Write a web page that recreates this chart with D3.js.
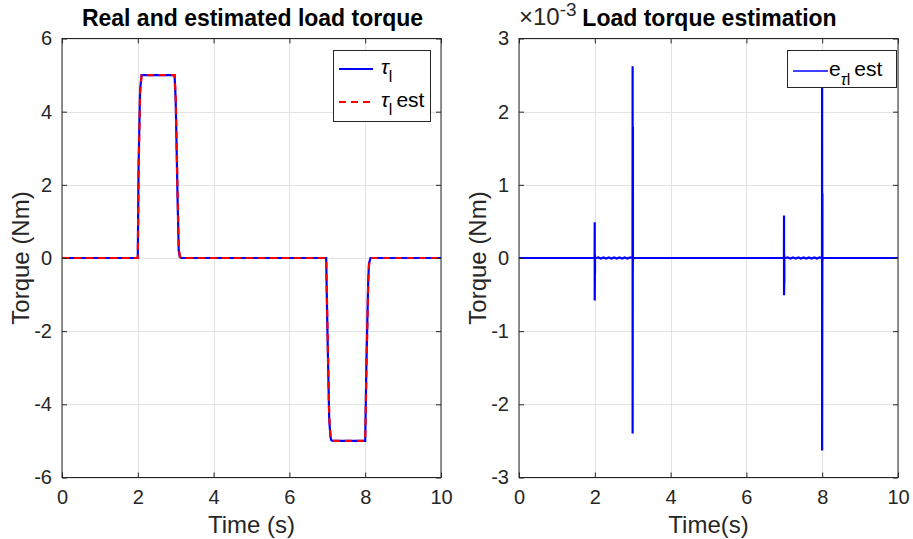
<!DOCTYPE html>
<html lang="en">
<head>
<meta charset="UTF-8">
<script src="https://d3js.org/d3.v7.min.js"></script>
<style>
  body { margin: 0; background: #fff; }
  svg { display: block; font-family: "Liberation Sans", Arial, sans-serif; }
  .grid line { stroke: #e3e3e3; stroke-width: 1; }
  .tick text { fill: #262626; font-family: "Liberation Sans", Arial, sans-serif; font-size: 20px; }
</style>
</head>
<body>
<div id="container"></div>
<script>
// left panel: real and estimated load torque (Nm)
var timeL   = [0, 2.0, 2.02, 2.06, 2.1, 2.97, 3.0, 3.05, 3.08, 3.11, 3.15, 6.97, 7.0, 7.05, 7.08, 7.1, 7.14, 8.0, 8.03, 8.08, 8.1, 8.14, 10];
var torque  = [0, 0, 2.5, 4.6, 5, 5, 4.3, 1.6, 0.2, 0.02, 0, 0, -1.8, -4.4, -4.85, -4.97, -5, -5, -3.0, -0.6, -0.15, 0, 0];
var torqueE = [0, 0, 2.3, 4.5, 5, 5, 4.4, 1.8, 0.3, 0.04, 0, 0, -1.6, -4.3, -4.8, -4.95, -5, -5, -3.2, -0.7, -0.2, 0, 0];

// right panel: estimation error (x1e-3 Nm)
var errT = [0, 1.995, 1.998, 1.998, 2.003, 2.003, 2.006, 2.006, 2.03,
            2.09, 2.16, 2.23, 2.30, 2.37, 2.44, 2.51, 2.58, 2.65, 2.72, 2.79, 2.86, 2.93,
            2.995, 2.998, 2.998, 3.006, 3.006, 3.01, 3.03,
            3.5, 6.99, 6.993, 6.993, 6.998, 6.998, 7.001, 7.001, 7.03,
            7.09, 7.16, 7.23, 7.30, 7.37, 7.44, 7.51, 7.58, 7.65, 7.72, 7.79, 7.86, 7.93,
            7.995, 7.998, 7.998, 8.006, 8.006, 8.01, 8.03, 10];
var errV = [0, 0, 0.49, -0.58, -0.21, 0.05, -0.21, 0, 0,
            0.007, -0.007, 0.007, -0.007, 0.007, -0.007, 0.007, -0.007, 0.007, -0.007, 0.007, -0.007, 0.007,
            0, 2.62, -2.40, 1.79, -0.05, 0, 0,
            0, 0, 0.58, -0.51, -0.33, 0.05, -0.33, 0, 0,
            0.007, -0.007, 0.007, -0.007, 0.007, -0.007, 0.007, -0.007, 0.007, -0.007, 0.007, -0.007, 0.007,
            0, 2.65, -2.63, 0.88, -0.05, 0, 0, 0];

var xTicks = [0, 2, 4, 6, 8, 10];
var yTicksL = [-6, -4, -2, 0, 2, 4, 6];
var yTicksR = [-3, -2, -1, 0, 1, 2, 3];

var W = 913, H = 539;
var svg = d3.select("#container").append("svg").attr("width", W).attr("height", H);

function panel(left, right, yDom, yTicks) {
  var top = 38.5, bottom = 477.5;
  var x = d3.scaleLinear().domain([0, 10]).range([left, right]);
  var y = d3.scaleLinear().domain(yDom).range([bottom, top]);
  var g = svg.append("g");
  // grid
  var grid = g.append("g").attr("class", "grid");
  grid.selectAll(".gx").data(xTicks).enter().append("line")
    .attr("x1", d => Math.round(x(d)) + 0.5).attr("x2", d => Math.round(x(d)) + 0.5)
    .attr("y1", top).attr("y2", bottom);
  grid.selectAll(".gy").data(yTicks).enter().append("line")
    .attr("y1", d => Math.round(y(d)) + 0.5).attr("y2", d => Math.round(y(d)) + 0.5)
    .attr("x1", left).attr("x2", right);
  return {x: x, y: y, g: g, top: top, bottom: bottom, left: left, right: right};
}

var fmt = d => String(d);

function frame(p, yTicks) {
  var g = p.g.append("g");
  g.append("g").attr("transform", `translate(0,${p.bottom})`)
    .call(d3.axisBottom(p.x).tickValues(xTicks).tickSizeInner(-5).tickSizeOuter(0).tickPadding(12).tickFormat(fmt));
  g.append("g").attr("transform", `translate(0,${p.top})`)
    .call(d3.axisTop(p.x).tickValues(xTicks).tickSizeInner(-5).tickSizeOuter(0).tickFormat(""));
  g.append("g").attr("transform", `translate(${p.left},0)`)
    .call(d3.axisLeft(p.y).tickValues(yTicks).tickSizeInner(-5).tickSizeOuter(0).tickPadding(10).tickFormat(fmt));
  g.append("g").attr("transform", `translate(${p.right},0)`)
    .call(d3.axisRight(p.y).tickValues(yTicks).tickSizeInner(-5).tickSizeOuter(0).tickFormat(""));
  g.selectAll(".domain").remove();
  g.selectAll(".tick line").attr("stroke", "#262626");
  g.append("rect").attr("x", p.left).attr("y", p.top)
    .attr("width", p.right - p.left).attr("height", p.bottom - p.top)
    .attr("fill", "none").attr("stroke", "#262626").attr("stroke-width", 1);
}

function labels(p, title, xlab, ylabX) {
  var cx = (p.left + p.right) / 2;
  svg.append("text").attr("x", cx + 1).attr("y", 26).attr("text-anchor", "middle")
    .attr("font-size", 23).attr("font-weight", "bold").attr("fill", "#000").text(title);
  svg.append("text").attr("x", cx).attr("y", 533).attr("text-anchor", "middle")
    .attr("font-size", 24).attr("fill", "#262626").text(xlab);
  svg.append("text").attr("transform", `translate(${ylabX},${(p.top + p.bottom) / 2}) rotate(-90)`)
    .attr("text-anchor", "middle").attr("font-size", 24).attr("fill", "#262626").text("Torque (Nm)");
}

// ---- left
var pL = panel(62, 441, [-6, 6], yTicksL);
var lineL = d3.line().x((d, i) => pL.x(timeL[i])).y(d => pL.y(d));
pL.g.append("path").attr("d", lineL(torque)).attr("fill", "none")
  .attr("stroke", "#0000ff").attr("stroke-width", 2.2);
pL.g.append("path").attr("d", lineL(torqueE)).attr("fill", "none")
  .attr("stroke", "#ff0000").attr("stroke-width", 2.2).attr("stroke-dasharray", "7,5");
frame(pL, yTicksL);
labels(pL, "Real and estimated load torque", "Time (s)", 29);

// legend left
var lg = svg.append("g");
lg.append("rect").attr("x", 333.5).attr("y", 50.5).attr("width", 97).attr("height", 71)
  .attr("fill", "#fff").attr("stroke", "#262626");
lg.append("line").attr("x1", 339).attr("x2", 373).attr("y1", 69).attr("y2", 69)
  .attr("stroke", "#0000ff").attr("stroke-width", 2.2);
lg.append("line").attr("x1", 339).attr("x2", 373).attr("y1", 102).attr("y2", 102)
  .attr("stroke", "#ff0000").attr("stroke-width", 2.2).attr("stroke-dasharray", "7,5");
var t1 = lg.append("text").attr("x", 381).attr("y", 74).attr("font-size", 21).attr("fill", "#000");
t1.append("tspan").attr("font-style", "italic").text("τ");
t1.append("tspan").attr("dy", 8).attr("font-size", 16).text("l");
var t2 = lg.append("text").attr("x", 381).attr("y", 107).attr("font-size", 21).attr("fill", "#000");
t2.append("tspan").attr("font-style", "italic").text("τ");
t2.append("tspan").attr("dy", 8).attr("font-size", 16).text("l");
t2.append("tspan").attr("dy", -8).attr("dx", 4).text("est");

// ---- right
var pR = panel(519, 898, [-3, 3], yTicksR);
var lineR = d3.line().x((d, i) => pR.x(errT[i])).y(d => pR.y(d));
pR.g.append("path").attr("d", lineR(errV)).attr("fill", "none")
  .attr("stroke", "#0000ff").attr("stroke-width", 2.2).attr("stroke-linejoin", "miter");
frame(pR, yTicksR);
labels(pR, "Load torque estimation", "Time(s)", 486);

// exponent label
var ex = svg.append("text").attr("x", 519).attr("y", 25).attr("font-size", 24).attr("fill", "#262626");
ex.append("tspan").text("×10");
ex.append("tspan").attr("dy", -9).attr("font-size", 19).text("-3");

// legend right
var lr = svg.append("g");
lr.append("rect").attr("x", 787.5).attr("y", 50.5).attr("width", 109).attr("height", 37)
  .attr("fill", "#fff").attr("stroke", "#262626");
lr.append("line").attr("x1", 793).attr("x2", 828).attr("y1", 71).attr("y2", 71)
  .attr("stroke", "#0000ff").attr("stroke-width", 1.6);
var t3 = lr.append("text").attr("x", 829).attr("y", 76).attr("font-size", 21).attr("fill", "#000");
t3.append("tspan").text("e");
t3.append("tspan").attr("dy", 9).attr("font-size", 16).attr("font-style", "italic").text("τ");
t3.append("tspan").attr("font-size", 16).text("l");
t3.append("tspan").attr("dy", -9).attr("dx", 4).text("est");
</script>
</body>
</html>
